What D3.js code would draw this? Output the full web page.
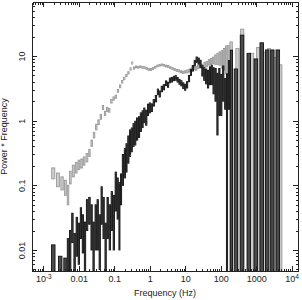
<!DOCTYPE html>
<html>
<head>
<meta charset="utf-8">
<script src="https://cdn.jsdelivr.net/npm/d3@7"></script>
<style>
  body { margin: 0; background: #fff; }
  text { font-family: "Liberation Sans", Arial, sans-serif; fill: #222; }
</style>
</head>
<body>
<svg id="chart" width="302" height="300"></svg>
<script>
// power * frequency spectra, two observations (grey and black), with error boxes

const grayFreq = [0.0019, 0.0026, 0.0034, 0.0042, 0.005, 0.0057, 0.007, 0.0085, 0.010, 0.012,
  0.014, 0.017, 0.020, 0.023, 0.027, 0.031, 0.036, 0.042, 0.048, 0.055,
  0.063, 0.072, 0.083, 0.096, 0.11, 0.127, 0.146, 0.168, 0.19, 0.22,
  0.25, 0.29, 0.32, 0.36, 0.41, 0.47, 0.54, 0.62, 0.71, 0.82,
  0.94, 1.08, 1.24, 1.43, 1.64, 1.89, 2.17, 2.5, 2.87, 3.3,
  3.8, 4.4, 5.0, 5.8, 6.6, 7.6, 8.8, 10.1, 11.6, 13.3,
  15.3, 17.6, 20.2, 23.2, 26.7, 30.7, 35.3, 40.6, 46.7, 53.7,
  61.7, 71, 81.6, 93.8, 108, 124, 142, 165, 190, 300,
  400, 760, 1140, 1690, 2300, 3200, 4740];
const grayPow = [0.156, 0.125, 0.11, 0.095, 0.075, 0.135, 0.17, 0.19, 0.21, 0.22,
  0.24, 0.27, 0.32, 0.45, 0.6, 0.8, 0.95, 1.15, 1.6, 1.3,
  1.5, 1.45, 2.0, 2.2, 2.35, 2.9, 3.4, 4.0, 4.5, 5.0,
  5.5, 6.3, 7.8, 6.5, 6.8, 6.7, 6.8, 6.7, 6.6, 6.4,
  6.2, 6.2, 6.4, 6.7, 7.0, 7.2, 7.3, 7.2, 7.0, 6.9,
  6.6, 6.4, 6.2, 6.0, 5.9, 5.7, 5.6, 5.7, 5.8, 6.0,
  6.2, 6.5, 6.4, 6.8, 7.1, 6.9, 7.4, 7.5, 8.0, 8.3,
  8.6, 8.9, 9.2, 9.4, 9.3, 9.6, 9.8, 9.5, 8.0, 6.0,
  12, 5.0, 6.0, 5.0, 6.0, 4.0, 3.5];
const grayErr = [0.03, 0.03, 0.025, 0.025, 0.025, 0.03, 0.035, 0.035, 0.035, 0.035,
  0.035, 0.04, 0.04, 0.05, 0.06, 0.08, 0.08, 0.1, 0.12, 0.1,
  0.11, 0.1, 0.13, 0.13, 0.13, 0.15, 0.17, 0.18, 0.2, 0.2,
  0.22, 0.25, 0.3, 0.25, 0.22, 0.22, 0.22, 0.22, 0.22, 0.22,
  0.22, 0.22, 0.22, 0.22, 0.22, 0.22, 0.22, 0.22, 0.22, 0.22,
  0.22, 0.22, 0.22, 0.22, 0.22, 0.22, 0.22, 0.25, 0.3, 0.3,
  0.35, 0.4, 0.4, 0.45, 0.5, 0.55, 0.6, 0.7, 0.8, 0.9,
  1.0, 1.5, 1.8, 2.2, 2.8, 3.5, 4.5, 5.0, 8.5, 7.0,
  14, 6.0, 7.5, 6.5, 7.0, 5.5, 3.8];

const blackFreq = [0.0019, 0.0030, 0.0042, 0.0050, 0.0057, 0.0066, 0.0076, 0.0088, 0.010, 0.0115,
  0.013, 0.015, 0.017, 0.020, 0.023, 0.026, 0.030, 0.034, 0.039, 0.044,
  0.050, 0.057, 0.065, 0.075, 0.085, 0.097, 0.11, 0.125, 0.14, 0.155,
  0.175, 0.2, 0.22, 0.25, 0.28, 0.31, 0.35, 0.39, 0.44, 0.5,
  0.56, 0.63, 0.7, 0.8, 0.9, 1.0, 1.14, 1.3, 1.5, 1.7,
  1.9, 2.2, 2.5, 2.9, 3.3, 3.7, 4.2, 4.8, 5.4, 6.1,
  6.9, 7.8, 8.8, 10, 11.3, 12.8, 14.5, 16.4, 18.6, 21,
  24, 27, 30.5, 34.5, 39, 44, 50, 56, 63, 72,
  81, 92, 104, 118, 135, 150, 172, 195, 265, 400,
  620, 980, 1440, 2060, 2850, 4080];
const blackPow = [0.006, 0.004, 0.004, 0.009, 0.012, 0.025, 0.01, 0.02, 0.016, 0.03,
  0.022, 0.015, 0.04, 0.045, 0.03, 0.015, 0.03, 0.035, 0.02, 0.06,
  0.04, 0.015, 0.04, 0.03, 0.05, 0.04, 0.1, 0.08, 0.06, 0.1,
  0.2, 0.25, 0.3, 0.4, 0.5, 0.55, 0.65, 0.7, 0.8, 0.85,
  1.0, 1.1, 1.25, 1.15, 1.5, 1.6, 1.6, 1.9, 2.2, 2.8,
  2.6, 3.1, 3.3, 3.8, 3.6, 4.2, 4.3, 4.5, 4.6, 4.3,
  4.0, 3.8, 3.5, 3.3, 3.6, 4.5, 5.6, 6.5, 7.8, 8.8,
  8.4, 7.6, 6.0, 5.4, 5.0, 4.6, 5.2, 5.4, 4.6, 4.2,
  3.0, 3.8, 3.2, 4.5, 3.0, 2.5, 5.0, 5.5, 3.0, 9.0,
  5.0, 4.0, 7.0, 5.0, 5.0, 5.0];
const blackErr = [0.006, 0.004, 0.0035, 0.006, 0.008, 0.012, 0.008, 0.012, 0.01, 0.015,
  0.013, 0.012, 0.02, 0.02, 0.02, 0.012, 0.02, 0.025, 0.015, 0.035,
  0.025, 0.011, 0.025, 0.02, 0.03, 0.03, 0.06, 0.05, 0.05, 0.05,
  0.1, 0.12, 0.14, 0.18, 0.22, 0.22, 0.25, 0.28, 0.3, 0.3,
  0.32, 0.32, 0.32, 0.3, 0.3, 0.28, 0.22, 0.22, 0.25, 0.28,
  0.28, 0.3, 0.3, 0.32, 0.32, 0.35, 0.35, 0.35, 0.38, 0.35,
  0.35, 0.35, 0.35, 0.35, 0.4, 0.5, 0.6, 0.65, 0.75, 0.85,
  0.9, 1.0, 1.1, 1.2, 1.3, 1.4, 1.6, 1.8, 2.0, 2.2,
  2.4, 2.6, 2.0, 2.5, 1.5, 2.8, 3.5, 6.8, 3.3, 12,
  6.0, 5.0, 9.0, 7.4, 7.4, 7.4];

const xMajor = [1e-3, 1e-2, 0.1, 1, 10, 100, 1000, 1e4];
const xLabels = ['10^-3', '0.01', '0.1', '1', '10', '100', '1000', '10^4'];
const yMajor = [0.01, 0.1, 1, 10];
const yLabels = ['0.01', '0.1', '1', '10'];

const svg = d3.select('#chart');

const plotLeft = 32, plotRight = 298, plotTop = 2, plotBottom = 271;

const x = d3.scaleLog()
  .domain([Math.pow(10, -3.32), Math.pow(10, 4.18)])
  .range([plotLeft, plotRight]);

const y = d3.scaleLog()
  .domain([0.00473, 68.4])
  .range([plotBottom, plotTop]);

// clip marks to the frame
svg.append('clipPath').attr('id', 'plot-clip')
  .append('rect')
  .attr('x', plotLeft).attr('y', plotTop)
  .attr('width', plotRight - plotLeft).attr('height', plotBottom - plotTop);

const marks = svg.append('g').attr('clip-path', 'url(#plot-clip)');

// each point is a box: part of the bin across, value +- error up and down
function drawSeries(freq, pow, err, stroke, fill) {
  const lx = freq.map((f) => Math.log10(f));
  const n = freq.length;
  const boxes = freq.map((f, i) => {
    const prev = i > 0 ? lx[i - 1] : 2 * lx[i] - lx[i + 1];
    const next = i < n - 1 ? lx[i + 1] : 2 * lx[i] - lx[i - 1];
    const lo = pow[i] - err[i];
    const h0 = Math.min((lx[i] - prev) * 0.32, 0.05);
    const h1 = Math.min((next - lx[i]) * 0.32, 0.05);
    return {
      x0: x(Math.pow(10, lx[i] - h0)),
      x1: x(Math.pow(10, lx[i] + h1)),
      y0: y(pow[i] + err[i]),
      y1: lo > y.domain()[0] ? y(lo) : plotBottom + 2
    };
  });

  marks.append('g')
    .selectAll('rect')
    .data(boxes)
    .enter()
    .append('rect')
    .attr('x', (d) => d.x0)
    .attr('y', (d) => d.y0)
    .attr('width', (d) => Math.max(0.3, d.x1 - d.x0))
    .attr('height', (d) => d.y1 - d.y0)
    .attr('fill', fill)
    .attr('stroke', stroke)
    .attr('stroke-width', 0.9);
}

drawSeries(grayFreq, grayPow, grayErr, '#999', '#cdcdcd');
drawSeries(blackFreq, blackPow, blackErr, '#111', '#4a4a4a');

// minor ticks from the scales' own tick lists
const xMinor = x.ticks().filter((t) => xMajor.indexOf(t) < 0);
const yMinor = y.ticks().filter((t) => yMajor.indexOf(t) < 0);

function styleAxis(g) {
  g.selectAll('path, line').attr('stroke', '#222').attr('shape-rendering', 'crispEdges');
  g.selectAll('text').attr('font-size', 9).attr('fill', '#222')
    .attr('font-family', '"Liberation Sans", Arial, sans-serif');
}

// bottom
const bottomAxis = svg.append('g')
  .attr('transform', `translate(0, ${plotBottom})`)
  .call(d3.axisBottom(x).tickValues(xMajor).tickSize(-5).tickSizeOuter(0).tickPadding(5)
    .tickFormat((d, i) => xLabels[i]));
svg.append('g')
  .attr('transform', `translate(0, ${plotBottom})`)
  .call(d3.axisBottom(x).tickValues(xMinor).tickSize(-2.5).tickSizeOuter(0).tickFormat(''))
  .call(styleAxis);
bottomAxis.call(styleAxis);

// superscript powers of ten
bottomAxis.selectAll('text').each(function (d, i) {
  const label = xLabels[i];
  if (label.indexOf('^') < 0) return;
  const parts = label.split('^');
  const t = d3.select(this).text(null);
  t.append('tspan').text(parts[0]);
  t.append('tspan').attr('dy', '-0.45em').attr('font-size', 6.5).text(parts[1]);
});

// top
svg.append('g')
  .attr('transform', `translate(0, ${plotTop})`)
  .call(d3.axisTop(x).tickValues(xMajor).tickSize(-5).tickSizeOuter(0).tickFormat(''))
  .call(styleAxis);
svg.append('g')
  .attr('transform', `translate(0, ${plotTop})`)
  .call(d3.axisTop(x).tickValues(xMinor).tickSize(-2.5).tickSizeOuter(0).tickFormat(''))
  .call(styleAxis);

// left
const leftAxis = svg.append('g')
  .attr('transform', `translate(${plotLeft}, 0)`)
  .call(d3.axisLeft(y).tickValues(yMajor).tickSize(-5).tickSizeOuter(0)
    .tickFormat((d, i) => yLabels[i]));
svg.append('g')
  .attr('transform', `translate(${plotLeft}, 0)`)
  .call(d3.axisLeft(y).tickValues(yMinor).tickSize(-2.5).tickSizeOuter(0).tickFormat(''))
  .call(styleAxis);
leftAxis.call(styleAxis);
leftAxis.selectAll('text')
  .attr('x', null)
  .attr('dy', null)
  .attr('text-anchor', 'middle')
  .attr('transform', 'translate(-7, 0) rotate(-90)');

// right
svg.append('g')
  .attr('transform', `translate(${plotRight}, 0)`)
  .call(d3.axisRight(y).tickValues(yMajor).tickSize(-5).tickSizeOuter(0).tickFormat(''))
  .call(styleAxis);
svg.append('g')
  .attr('transform', `translate(${plotRight}, 0)`)
  .call(d3.axisRight(y).tickValues(yMinor).tickSize(-2.5).tickSizeOuter(0).tickFormat(''))
  .call(styleAxis);

// titles
svg.append('text')
  .attr('x', (plotLeft + plotRight) / 2)
  .attr('y', 296)
  .attr('text-anchor', 'middle')
  .attr('font-size', 9)
  .text('Frequency (Hz)');

svg.append('text')
  .attr('transform', `translate(7, ${(plotTop + plotBottom) / 2}) rotate(-90)`)
  .attr('text-anchor', 'middle')
  .attr('font-size', 9)
  .text('Power * Frequency');
</script>
</body>
</html>
